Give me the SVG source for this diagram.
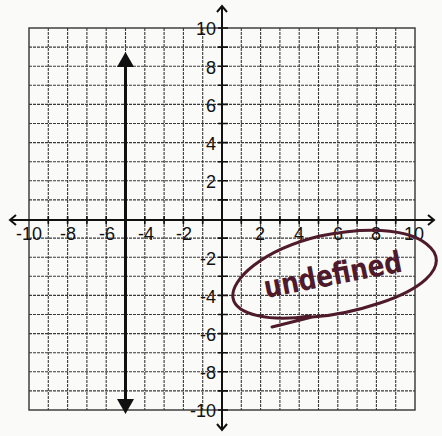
<svg xmlns="http://www.w3.org/2000/svg" width="442" height="436" viewBox="0 0 442 436">
<defs>
<style>
.grid{stroke:#3a3a3a;stroke-width:1.1;stroke-dasharray:3 1;fill:none}
.frame{stroke:#333;stroke-width:1.4;fill:none}
.axis{stroke:#111;stroke-width:2;fill:none}
.tick{stroke:#111;stroke-width:1.6}
.lbl{font-family:"Liberation Sans",Arial,sans-serif;font-size:18px;fill:#111}
.hand{font-family:"DejaVu Sans",sans-serif;font-weight:bold;font-size:30px;fill:#4e1a2c}
</style>
</defs>
<rect width="442" height="436" fill="#fafaf8"/>
<g id="grid">
<path class="grid" d="M48.3 28V410M67.6 28V410M86.9 28V410M106.2 28V410M125.5 28V410M144.8 28V410M164.1 28V410M183.4 28V410M202.7 28V410M241.3 28V410M260.6 28V410M279.9 28V410M299.2 28V410M318.5 28V410M337.8 28V410M357.1 28V410M376.4 28V410M395.7 28V410"/>
<path class="grid" d="M29 47.1H415M29 66.2H415M29 85.3H415M29 104.4H415M29 123.5H415M29 142.6H415M29 161.7H415M29 180.8H415M29 199.9H415M29 238.1H415M29 257.2H415M29 276.3H415M29 295.4H415M29 314.5H415M29 333.6H415M29 352.7H415M29 371.8H415M29 390.9H415"/>
<rect class="frame" x="29" y="28" width="386" height="382"/>
</g>
<g id="axes">
<path class="axis" d="M10 220H434M16 215L10 220L16 225M428 215L434 220L428 225"/>
<path class="axis" d="M222 6V430M217 12L222 6L227 12M217 424L222 430L227 424"/>
<path class="tick" d="M48.3 216V224M67.6 216V224M86.9 216V224M106.2 216V224M125.5 216V224M144.8 216V224M164.1 216V224M183.4 216V224M202.7 216V224M241.3 216V224M260.6 216V224M279.9 216V224M299.2 216V224M318.5 216V224M337.8 216V224M357.1 216V224M376.4 216V224M395.7 216V224"/>
<path class="tick" d="M218 28H228M218 47.1H228M218 66.2H228M218 85.3H228M218 104.4H228M218 123.5H228M218 142.6H228M218 161.7H228M218 180.8H228M218 199.9H228M218 238.1H228M218 257.2H228M218 276.3H228M218 295.4H228M218 314.5H228M218 333.6H228M218 352.7H228M218 371.8H228M218 390.9H228M218 410H228"/>
</g>
<g id="ylabels" class="lbl" text-anchor="end">
<text x="216" y="35">10</text>
<text x="216" y="74">8</text>
<text x="216" y="112">6</text>
<text x="216" y="150">4</text>
<text x="216" y="188">2</text>
<text x="216" y="265">-2</text>
<text x="216" y="303">-4</text>
<text x="216" y="341">-6</text>
<text x="216" y="379">-8</text>
<text x="216" y="417">-10</text>
</g>
<g id="xlabels" class="lbl" text-anchor="middle">
<text x="29" y="240">-10</text>
<text x="68" y="240">-8</text>
<text x="107" y="240">-6</text>
<text x="146" y="240">-4</text>
<text x="184" y="240">-2</text>
<text x="260" y="240">2</text>
<text x="299" y="240">4</text>
<text x="338" y="240">6</text>
<text x="376" y="240">8</text>
<text x="414" y="240">10</text>
</g>
<g id="vline">
<line x1="125.5" y1="64" x2="125.5" y2="400" stroke="#111" stroke-width="3"/>
<polygon points="125.5,52 117,67 134,67" fill="#111"/>
<polygon points="125.5,414 117,399 134,399" fill="#111"/>
</g>
<g id="note">
<path d="M310 316C270 322 236 315 233 298C230 280 262 250 320 236C370 226 418 228 434 252C444 270 420 290 380 303C350 313 330 316 312 317L272 327" fill="none" stroke="#4e1a2c" stroke-width="3" stroke-linecap="round"/>
<text class="hand" x="266" y="298" textLength="140" lengthAdjust="spacingAndGlyphs" transform="rotate(-11 266 298)">undefined</text>
</g>
</svg>
